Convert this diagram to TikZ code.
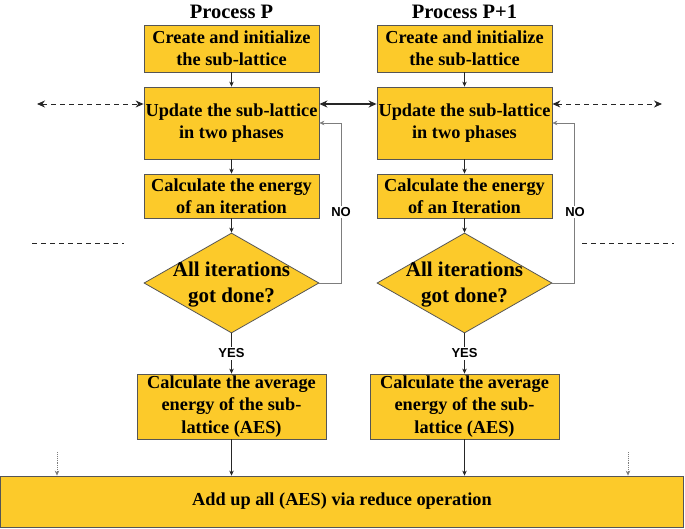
\documentclass[tikz,border=0pt]{standalone}
\usepackage{fontspec}
\setmainfont{Liberation Serif}
\newfontfamily\labelfont{Liberation Sans}
\usetikzlibrary{shapes.geometric}
\usetikzlibrary{arrows.meta}

\definecolor{boxyellow}{RGB}{252,202,42}
\definecolor{boxedge}{RGB}{85,85,85}
\definecolor{loopgray}{RGB}{125,125,125}

\begin{document}
\begin{tikzpicture}[x=1pt, y=-1pt, >={Stealth[length=5pt,width=4.5pt]},
  stepbox/.style={rectangle, draw=boxedge, fill=boxyellow, line width=0.8pt,
    align=center, inner sep=1pt, font=\bfseries\fontsize{18.3}{22.5}\selectfont},
  decision/.style={diamond, draw=boxedge, fill=boxyellow, line width=0.8pt,
    minimum width=175pt, minimum height=100pt, inner sep=0pt},
  dectext/.style={align=center, font=\bfseries\fontsize{21}{26}\selectfont},
  title/.style={font=\bfseries\fontsize{20.5}{24}\selectfont},
  answer/.style={fill=white, inner sep=1.5pt, font=\labelfont\bfseries\fontsize{13}{15}\selectfont},
  flow/.style={->, draw=black!85, line width=0.6pt},
  sidelink/.style={{Stealth[length=8pt,width=7pt]}-{Stealth[length=8pt,width=7pt]},
    draw=black!85, line width=0.9pt, dash pattern=on 5pt off 4pt}]

  \useasboundingbox (0,0) rectangle (685,528);

  % final reduce step
  \node[stepbox, minimum width=683pt, minimum height=51pt] (reduce)
        at (342,501.5) {Add up all (AES) via reduce operation};

  % process P
  \node[title] (titleP) at (231.5,12) {Process P};
  \node[stepbox, minimum width=175pt, minimum height=47pt] (create1)
        at (231.5,48.5) {Create and initialize\\the sub-lattice};
  \node[stepbox, minimum width=175pt, minimum height=72pt] (update1)
        at (231.5,123) {Update the sub-lattice\\in two phases};
  \node[stepbox, minimum width=175pt, minimum height=44pt] (energy1)
        at (231.5,196) {Calculate the energy\\of an iteration};
  \node[decision] (check1) at (231.5,283) {};
  \node[dectext] (checktext1) at (231.5,285) {All iterations\\got done?};
  \node[stepbox, minimum width=189pt, minimum height=65pt] (average1)
        at (231.5,406.5) {Calculate the average\\energy of the sub-\\lattice (AES)};

  \draw[flow] (create1) -- (update1);
  \draw[flow] (update1) -- (energy1);
  \draw[flow] (energy1) -- (check1);
  \draw[flow] (check1) -- node[answer] (yes1) {YES} (average1);
  \draw[flow, draw=loopgray] (check1.east) -- ++(22,0) |- (update1.east);
  \node[answer] (no1) at (341,212) {NO};
  \draw[flow] (average1) -- (average1 |- reduce.north);

  % process P+1
  \node[title] (titleP1) at (464.5,12) {Process P+1};
  \node[stepbox, minimum width=175pt, minimum height=47pt] (create2)
        at (464.5,48.5) {Create and initialize\\the sub-lattice};
  \node[stepbox, minimum width=175pt, minimum height=72pt] (update2)
        at (464.5,123) {Update the sub-lattice\\in two phases};
  \node[stepbox, minimum width=175pt, minimum height=44pt] (energy2)
        at (464.5,196) {Calculate the energy\\of an Iteration};
  \node[decision] (check2) at (464.5,283) {};
  \node[dectext] (checktext2) at (464.5,285) {All iterations\\got done?};
  \node[stepbox, minimum width=189pt, minimum height=65pt] (average2)
        at (464.5,406.5) {Calculate the average\\energy of the sub-\\lattice (AES)};

  \draw[flow] (create2) -- (update2);
  \draw[flow] (update2) -- (energy2);
  \draw[flow] (energy2) -- (check2);
  \draw[flow] (check2) -- node[answer] (yes2) {YES} (average2);
  \draw[flow, draw=loopgray] (check2.east) -- ++(22,0) |- (update2.east);
  \node[answer] (no2) at (575,212) {NO};
  \draw[flow] (average2) -- (average2 |- reduce.north);

  % exchange between neighbours
  \draw[{Stealth[length=8pt,width=7pt]}-{Stealth[length=8pt,width=7pt]}, draw=black!85, line width=1.3pt]
       ([yshift=19pt]update1.east) -- ([yshift=19pt]update2.west);
  \coordinate (farleft) at (37,104);
  \coordinate (farright) at (662,104);
  \draw[sidelink] (farleft) -- ([yshift=19pt]update1.west);
  \draw[sidelink] ([yshift=19pt]update2.east) -- (farright);

  % other processes
  \draw[draw=black!85, line width=0.9pt, dash pattern=on 5pt off 4pt] (32,243) -- (124,243);
  \draw[draw=black!85, line width=0.9pt, dash pattern=on 5pt off 4pt] (582,243) -- (674,243);
  \coordinate (dotleft) at (57,452);
  \coordinate (dotright) at (628,452);
  \draw[flow, draw=loopgray, line width=0.9pt, densely dotted] (dotleft) -- (dotleft |- reduce.north);
  \draw[flow, draw=loopgray, line width=0.9pt, densely dotted] (dotright) -- (dotright |- reduce.north);

\end{tikzpicture}
\end{document}
